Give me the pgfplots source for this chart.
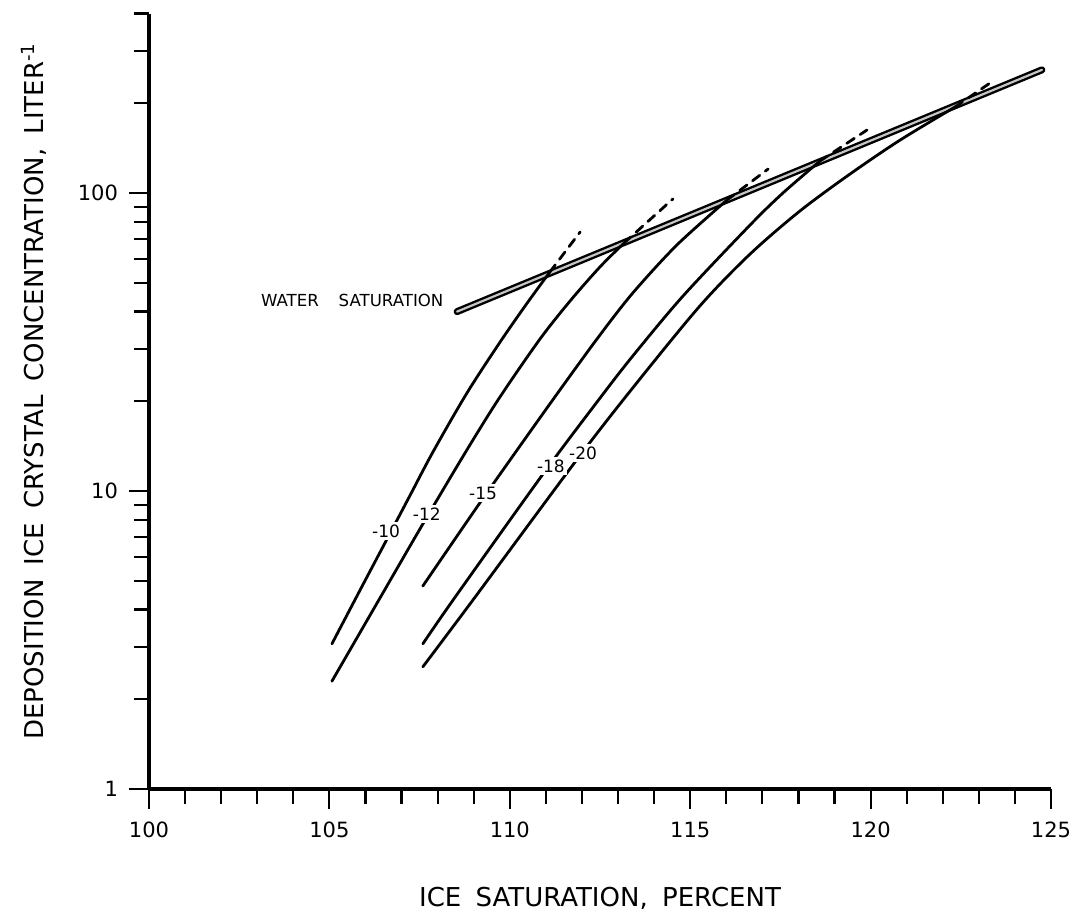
\documentclass[border=0pt]{standalone}
\usepackage{pgfplots}
\pgfplotsset{compat=1.18}
\usepackage{fontspec}
\setmainfont{DejaVu Sans}
\usetikzlibrary{calc}
\tikzset{lbl/.style={fill=white, inner sep=1.2pt, font=\fontsize{8.5}{9}\selectfont}}
\newcommand{\wsp}{\hspace{0.55em}}

\begin{document}
\begin{tikzpicture}
\begin{axis}[
  scale only axis, width=451pt, height=387.7pt,
  ymode=log, xmin=100, xmax=125, ymin=1, ymax=400,
  axis x line*=bottom, axis y line*=left,
  axis line style={line width=1.8pt},
  xtick={100,105,...,125}, minor x tick num=4,
  ytick={1,10,100}, yticklabels={1,10,100},
  minor ytick={2,3,4,5,6,7,8,9,20,30,40,50,60,70,80,90,200,300,400},
  tick align=outside,
  major tick length=10pt, minor tick length=7.5pt,
  every tick/.style={black, line width=1.1pt},
  /pgf/number format/assume math mode=true,
  /pgf/number format/set thousands separator={},
  tick label style={font=\fontsize{10.5}{12}\selectfont},
  xticklabel style={yshift=-3pt},
  yticklabel style={xshift=-2pt},
  xlabel={ICE\wsp SATURATION,\wsp PERCENT},
  ylabel={DEPOSITION\wsp ICE\wsp CRYSTAL\wsp CONCENTRATION,\wsp LITER\textsuperscript{-1}},
  label style={font=\fontsize{13}{15}\selectfont},
  xlabel style={at={(axis description cs:0.5,-0.1406)}, anchor=center},
  ylabel style={at={(axis description cs:-0.1275,0.513)}, anchor=center},
  clip=false,
  every axis plot/.append style={line cap=round},
]
% water saturation
\addplot[black, line width=1.2pt, double=gray!45, double distance=1.1pt] coordinates {(108.54,40) (124.75,259)};

% -10
\addplot[black, line width=1.4pt, smooth] coordinates {
  (105.07,3.07) (105.85,4.65) (106.57,6.80) (107.24,9.69) (107.87,13.52)
  (108.81,21.3) (109.73,31.6) (110.48,42.7) (111.11,54.3)};
\addplot[black, line width=1.4pt, dash pattern=on 4.5pt off 3.5pt] coordinates {(111.11,54.3) (111.95,74)};
% -12
\addplot[black, line width=1.4pt, smooth] coordinates {
  (105.07,2.30) (106.40,4.37) (107.59,7.75) (108.81,13.73) (109.73,20.7)
  (110.84,32.4) (111.67,43.4) (112.50,56.5) (113.17,68.0)};
\addplot[black, line width=1.4pt, dash pattern=on 4.5pt off 3.5pt] coordinates {(113.17,68.0) (114.52,95.5)};
% -15
\addplot[black, line width=1.4pt, smooth] coordinates {
  (107.59,4.80) (109.17,9.12) (110.64,16.3) (111.59,23.6) (112.50,33.4)
  (113.41,46.2) (114.63,66.9) (116.02,94.7)};
\addplot[black, line width=1.4pt, dash pattern=on 4.5pt off 3.5pt] coordinates {(116.02,94.7) (117.16,120.4)};
% -18
\addplot[black, line width=1.4pt, smooth] coordinates {
  (107.59,3.07) (108.43,4.31) (110.92,11.40) (112.50,20.5) (113.41,28.4)
  (114.80,45.1) (116.66,78.1) (117.57,100) (118.60,128.1)};
\addplot[black, line width=1.4pt, dash pattern=on 4.5pt off 3.5pt] coordinates {(118.60,128.1) (119.90,162.7)};
% -20
\addplot[black, line width=1.4pt, smooth] coordinates {
  (107.59,2.57) (108.98,4.31) (111.81,12.51) (113.41,22.2) (115.27,41.8)
  (116.66,62.4) (118.04,87.0) (119.43,115.8) (120.82,150.6) (122.34,194.4)};
\addplot[black, line width=1.4pt, dash pattern=on 4.5pt off 3.5pt] coordinates {(122.34,194.4) (123.31,233.9)};

\node[lbl] at (axis cs:106.57,7.34) {-10};
\node[lbl] at (axis cs:107.70,8.37) {-12};
\node[lbl] at (axis cs:109.26,9.85) {-15};
\node[lbl] at (axis cs:111.14,12.13) {-18};
\node[lbl] at (axis cs:112.03,13.4) {-20};
\node[anchor=east, inner sep=0pt, font=\fontsize{8.3}{9}\selectfont] at (axis cs:108.17,43.7) {WATER\hspace{1.2em}SATURATION};
\end{axis}
\pgfresetboundingbox
\path[use as bounding box] ($(current axis.south west)+(-74.5pt,-61.5pt)$) rectangle ($(current axis.north east)+(12.5pt,6.8pt)$);
\end{tikzpicture}
\end{document}
